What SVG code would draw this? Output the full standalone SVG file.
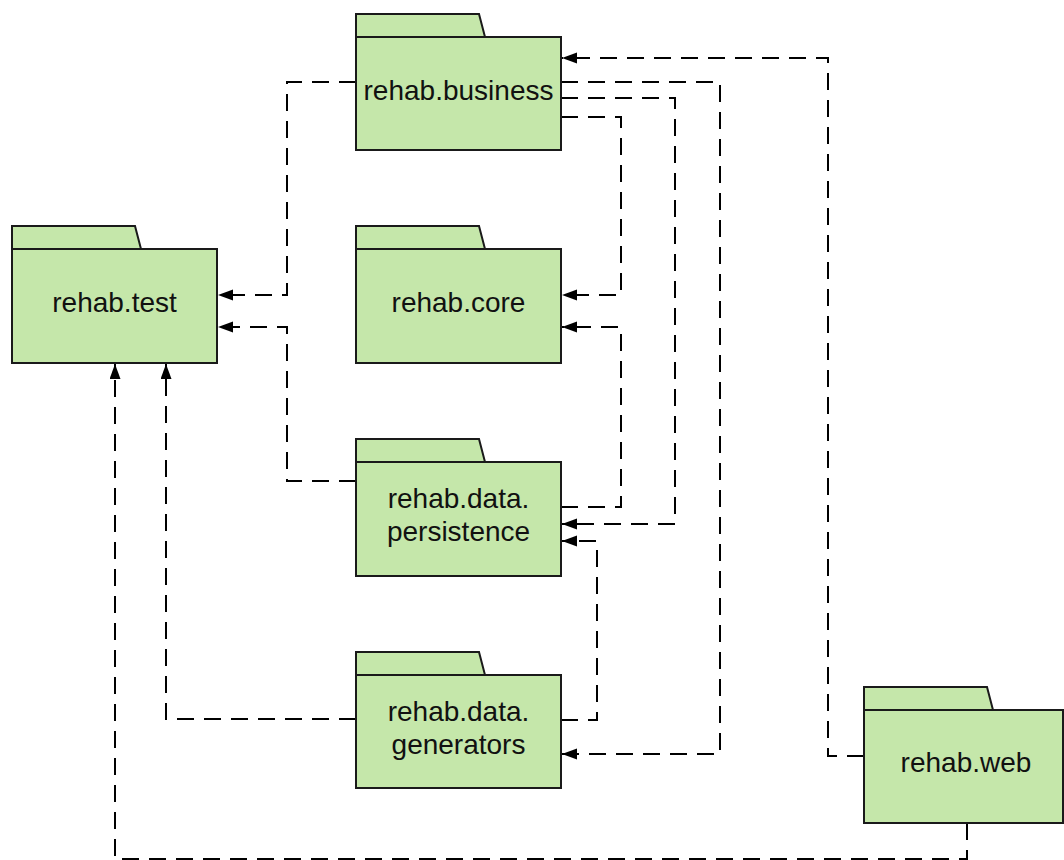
<svg xmlns="http://www.w3.org/2000/svg" width="1064" height="860" viewBox="0 0 1064 860">
  <defs>
    <marker id="arr" markerUnits="userSpaceOnUse" markerWidth="16" markerHeight="12" refX="15" refY="5.5" orient="auto">
      <path d="M0,0 L15,5.5 L0,11 z" fill="#000"/>
    </marker>
    <style>
      .pkg path, .pkg rect { fill: #c5e7aa; stroke: #1a1a1a; stroke-width: 2; }
      .pkg text { font-family: "Liberation Sans", Arial, sans-serif; font-size: 28px; fill: #111; text-anchor: middle; }
      .conn path { fill: none; stroke: #000; stroke-width: 2; stroke-dasharray: 17 10; marker-end: url(#arr); }
    </style>
  </defs>
  <rect width="1064" height="860" fill="#fff"/>

  <g id="connectors" class="conn">
    <path d="M356,82 H287 V295 H218"/>
    <path d="M356,481 H287 V327 H218"/>
    <path d="M561,117 H621 V295 H562"/>
    <path d="M561,507 H621 V327 H562"/>
    <path d="M561,98 H675 V524 H562"/>
    <path d="M561,720 H597 V541 H562"/>
    <path d="M561,82 H720 V754 H562"/>
    <path d="M864,756 H828 V58 H562"/>
    <path d="M967,823 V859 H115 V364"/>
    <path d="M356,719 H166 V364"/>
  </g>

  <g id="business" class="pkg">
    <path d="M356,37 V14 H479 L485,37 Z"/>
    <rect x="356" y="37" width="205" height="113"/>
    <text x="458.5" y="100">rehab.business</text>
  </g>
  <g id="test" class="pkg">
    <path d="M12,249 V226 H135 L141,249 Z"/>
    <rect x="12" y="249" width="205" height="114"/>
    <text x="114.5" y="312">rehab.test</text>
  </g>
  <g id="core" class="pkg">
    <path d="M356,249 V226 H479 L485,249 Z"/>
    <rect x="356" y="249" width="205" height="114"/>
    <text x="458.5" y="312">rehab.core</text>
  </g>
  <g id="persistence" class="pkg">
    <path d="M356,462 V439 H479 L485,462 Z"/>
    <rect x="356" y="462" width="205" height="114"/>
    <text x="458.5" y="508">rehab.data.</text>
    <text x="458.5" y="541">persistence</text>
  </g>
  <g id="generators" class="pkg">
    <path d="M356,675 V652 H479 L485,675 Z"/>
    <rect x="356" y="675" width="205" height="113"/>
    <text x="458.5" y="721">rehab.data.</text>
    <text x="458.5" y="754">generators</text>
  </g>
  <g id="web" class="pkg">
    <path d="M864,710 V687 H987 L993,710 Z"/>
    <rect x="864" y="710" width="199" height="113"/>
    <text x="966" y="772">rehab.web</text>
  </g>
</svg>
